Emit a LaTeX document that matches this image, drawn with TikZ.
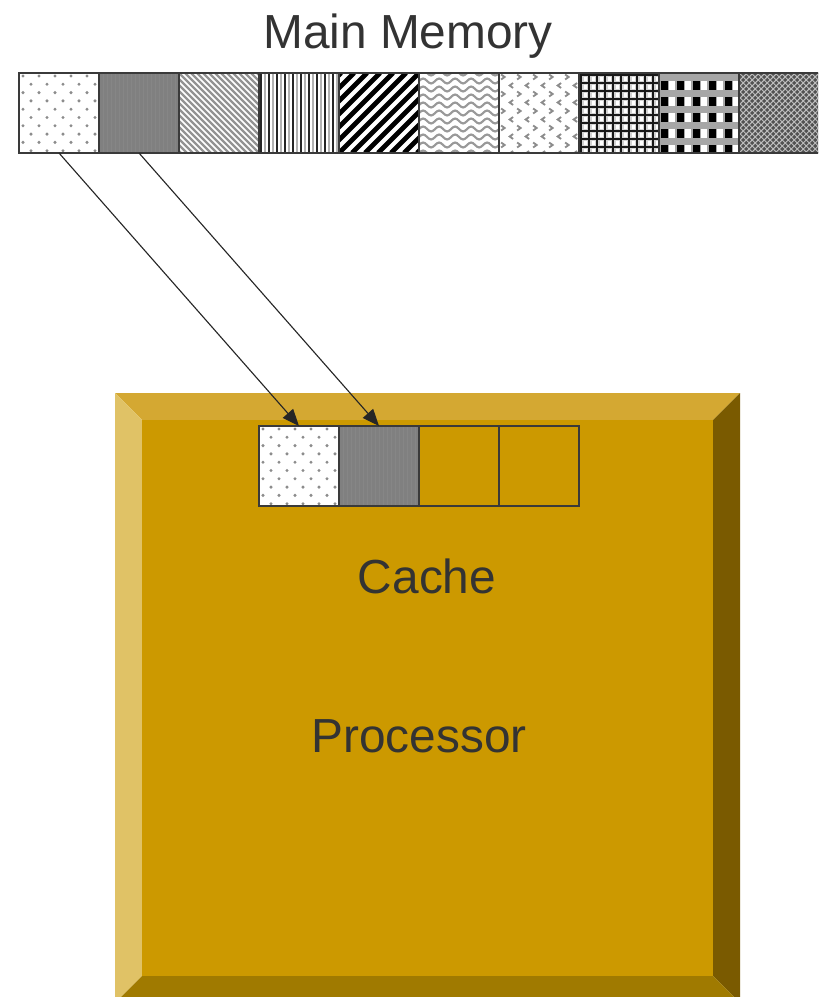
\documentclass[tikz,border=0pt]{standalone}
\usepackage{fontspec}
\setmainfont{Liberation Sans}
\usepackage{xcolor}
\usetikzlibrary{positioning}
\usetikzlibrary{arrows.meta}

\definecolor{txtgray}{HTML}{333333}
\definecolor{edgegray}{HTML}{3A3A3A}
\definecolor{procface}{HTML}{CC9900}
\definecolor{proctop}{HTML}{D4A832}
\definecolor{procleft}{HTML}{E0C266}
\definecolor{procright}{HTML}{7A5A00}
\definecolor{procbottom}{HTML}{A07A00}

% fill patterns, drawn in a 80x80 box round (0,0)
\newcommand{\patDots}{%
  \foreach \r in {0,...,9}{\foreach \c in {0,...,5}{
    \fill[gray!90] ({-36+16*\c+8*mod(\r,2)},{-37+8.3*\r}) circle (1.2pt);}}}
\newcommand{\patGray}{%
  \foreach \a in {-40,-36,...,40}{\draw[gray!95,line width=0.2pt] (\a,-40) -- (\a,40);}}
\newcommand{\patBack}{%
  \foreach \a in {-84,-78,...,84}{\draw[gray!85,line width=1.7pt] ({\a-40},-40) -- ({\a+40},40);}}
\newcommand{\patVert}{%
  \foreach \a in {-38,-30,...,40}{\draw[black!85,line width=1.1pt] (\a,-40) -- (\a,40);
    \draw[gray!60,line width=1pt] ({\a+4},-40) -- ({\a+4},40);}}
\newcommand{\patFwd}{%
  \foreach \a in {-91,-78,...,91}{\draw[black,line width=3.4pt] ({\a-40},40) -- ({\a+40},-40);}}
\newcommand{\patWave}{%
  \foreach \r in {-40,-32,...,40}{\draw[gray!80,line width=1.5pt]
    plot[domain=-44:44,samples=45] (\x,{\r+2.5*sin(22.5*\x)});}}
\newcommand{\patChev}{%
  \foreach \r in {0,...,9}{\foreach \c in {0,...,5}{
    \pgfmathsetmacro\px{-36+16*\c+8*mod(\r,2)}
    \pgfmathsetmacro\py{-36+8.5*\r}
    \pgfmathsetmacro\dr{1-2*mod(\r,2)}
    \draw[gray!90,line width=1.3pt] ({\px-2*\dr},{\py-2.5}) -- ({\px+1.5*\dr},\py) -- ({\px-2*\dr},{\py+2.5});}}}
\newcommand{\patGrid}{%
  \foreach \a in {-38,-30,...,40}{
    \draw[gray!35,line width=3.5pt] (\a,-40) -- (\a,40) (-40,\a) -- (40,\a);}
  \foreach \a in {-38,-30,...,40}{
    \draw[black!90,line width=1.2pt] (\a,-40) -- (\a,40) (-40,\a) -- (40,\a);}}
\newcommand{\patBlocks}{%
  \foreach \r in {0,...,4}{\foreach \c in {0,...,4}{
    \fill[black] ({-38+16*\c},{-32+16*\r}) rectangle ++(7,9);
    \fill[white] ({-30+16*\c},{-32+16*\r}) rectangle ++(6,9);}}}
\newcommand{\patDiam}{%
  \foreach \a in {-84,-78,...,84}{
    \draw[gray!50,line width=0.7pt] ({\a-40},-40) -- ({\a+40},40) ({\a-40},40) -- ({\a+40},-40);}}

\begin{document}
\begin{tikzpicture}[
    x=0.025cm, y=-0.025cm,
    cell/.style={rectangle, draw=edgegray, line width=1pt, minimum size=2cm, inner sep=0pt, outer sep=0pt},
    pat/.style={path picture={\begin{scope}[shift={(path picture bounding box.center)}]#1\end{scope}}},
    label/.style={text=txtgray, font=\fontsize{34}{40}\selectfont, inner sep=0pt},
    link/.style={-{Triangle[length=0.42cm,width=0.34cm]}, line width=0.8pt, draw=black!85}
]
    \clip (0,0) rectangle (818,997);

    % Main memory strip
    \node[label] (memtitle) at (408,36) {Main Memory};
    \node[cell, fill=white, pat=\patDots] (m1) at (59,113) {};
    \node[cell, fill=gray, pat=\patGray, right=0pt of m1] (m2) {};
    \node[cell, fill=white, pat=\patBack, right=0pt of m2] (m3) {};
    \node[cell, fill=white, pat=\patVert, right=0pt of m3] (m4) {};
    \node[cell, fill=white, pat=\patFwd, right=0pt of m4] (m5) {};
    \node[cell, fill=white, pat=\patWave, right=0pt of m5] (m6) {};
    \node[cell, fill=white, pat=\patChev, right=0pt of m6] (m7) {};
    \node[cell, fill=white, pat=\patGrid, right=0pt of m7] (m8) {};
    \node[cell, fill=gray!70, pat=\patBlocks, right=0pt of m8] (m9) {};
    \node[cell, fill=black!68, pat=\patDiam, right=0pt of m9] (m10) {};

    % Processor with bevelled edges
    \fill[proctop] (115,393) -- (740,393) -- (713,420) -- (142,420) -- cycle;
    \fill[procleft] (115,393) -- (142,420) -- (142,976) -- (115,1003) -- cycle;
    \fill[procright] (740,393) -- (740,1003) -- (713,976) -- (713,420) -- cycle;
    \fill[procbottom] (115,1003) -- (142,976) -- (713,976) -- (740,1003) -- cycle;
    \fill[procface] (142,420) rectangle (713,976);

    % Cache lines
    \node[cell, fill=white, pat=\patDots] (c1) at (299,466) {};
    \node[cell, fill=gray, pat=\patGray, right=0pt of c1] (c2) {};
    \node[cell, right=0pt of c2] (c3) {};
    \node[cell, right=0pt of c3] (c4) {};

    \node[label] (cachelbl) at (427,576) {Cache};
    \node[label] (proclbl) at (419,736) {Processor};

    % Blocks copied into the cache
    \draw[link] (m1.south) -- (c1.north);
    \draw[link] (m2.south) -- (c2.north);
\end{tikzpicture}
\end{document}
